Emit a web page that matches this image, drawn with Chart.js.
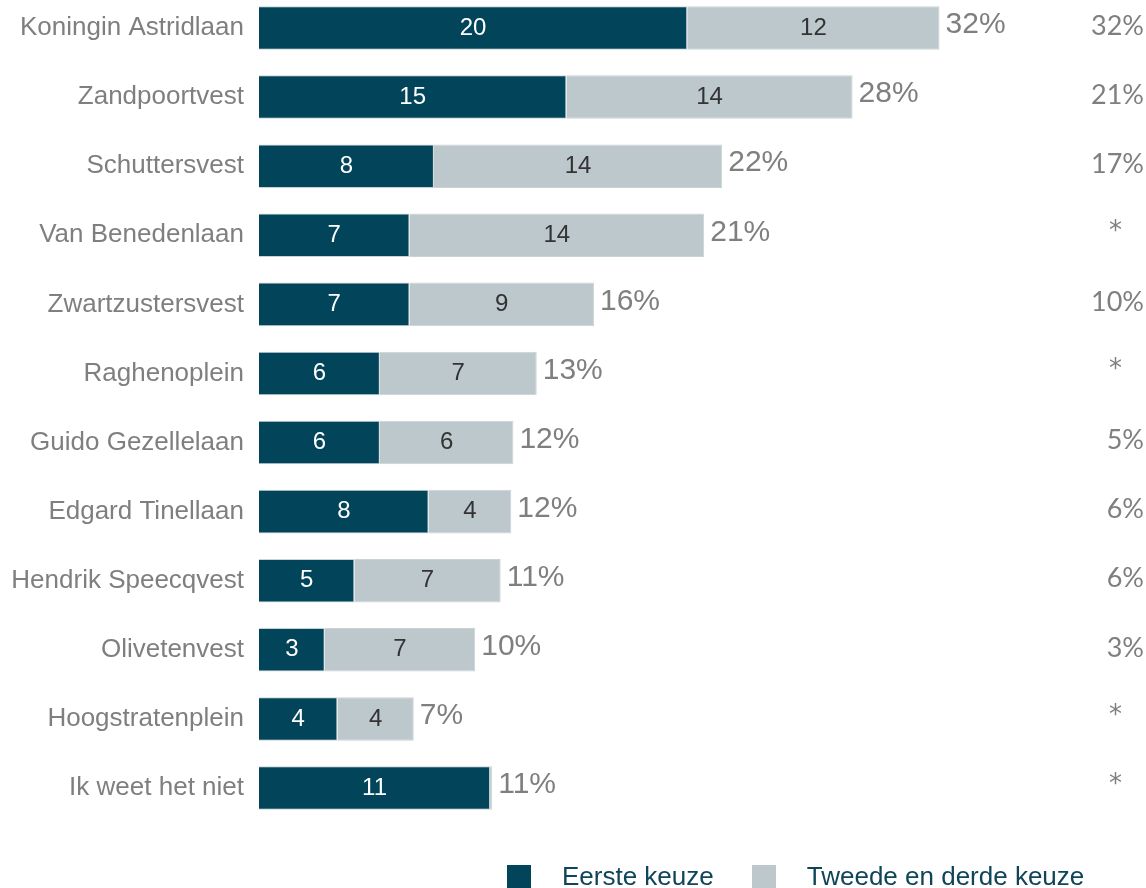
<!DOCTYPE html>
<html>
<head>
<meta charset="utf-8">
<script src="https://cdn.jsdelivr.net/npm/chart.js@4"></script>
<style>
  html, body { margin: 0; padding: 0; background: #fff; }
  #wrap { position: relative; width: 1146px; height: 888px; }
  #legend { position: absolute; left: 507px; top: 861px; display: flex; font-family: "Liberation Sans", Arial, sans-serif; font-size: 26px; color: #0f4558; }
  .item { display: flex; align-items: center; margin-right: 38px; }
  .box { width: 24px; height: 24px; margin-right: 31px; }
</style>
</head>
<body>
<div id="wrap">
  <canvas id="keuzeChart" width="1146" height="888"></canvas>
  <div id="legend"></div>
</div>
<script>
// ===== Voorkeur locatie: eerste vs tweede/derde keuze =====
const categories = [
  "Koningin Astridlaan", "Zandpoortvest", "Schuttersvest", "Van Benedenlaan",
  "Zwartzustersvest", "Raghenoplein", "Guido Gezellelaan", "Edgard Tinellaan",
  "Hendrik Speecqvest", "Olivetenvest", "Hoogstratenplein", "Ik weet het niet"
];
const eersteKeuze = [20.2, 14.5, 8.25, 7.1, 7.1, 5.7, 5.7, 8.0, 4.5, 3.1, 3.7, 10.9];
const tweedeDerde = [11.9, 13.5, 13.6, 13.9, 8.7, 7.4, 6.3, 3.9, 6.9, 7.1, 3.6, 0.1];
const rightColumn = ["32%", "21%", "17%", "*", "10%", "*", "5%", "6%", "6%", "3%", "*", "*"];

const DARK = "#02445a";
const LIGHT = "#bcc8cc";
const GREY = "#7f7f7f";

const labelPlugin = {
  id: "barLabels",
  afterDatasetsDraw(chart) {
    const c = chart.ctx;
    const m0 = chart.getDatasetMeta(0).data;
    const m1 = chart.getDatasetMeta(1).data;
    c.save();
    c.textBaseline = "middle";
    categories.forEach((cat, i) => {
      // values inside the bars
      [[m0[i], eersteKeuze[i], "#ffffff"], [m1[i], tweedeDerde[i], "#333333"]].forEach(([bar, v, col]) => {
        if (v < 1) return;
        c.font = "24px 'Liberation Sans', Arial, sans-serif";
        c.fillStyle = col;
        c.textAlign = "center";
        c.fillText(Math.round(v), (bar.x + bar.base) / 2, bar.y);
      });
      // total after the bar
      const total = Math.round(eersteKeuze[i] + tweedeDerde[i]);
      c.font = "30px 'Liberation Sans', Arial, sans-serif";
      c.fillStyle = GREY;
      c.textAlign = "left";
      c.fillText(total + "%", m1[i].x + 6, m1[i].y - 3);
      // right hand column
      c.textAlign = "right";
      if (rightColumn[i] === "*") {
        c.font = "26px 'DejaVu Sans', sans-serif";
        c.fillText("*", 1122, m1[i].y - 3);
      } else {
        c.font = "27px Lato, 'Open Sans', sans-serif";
        c.fillText(rightColumn[i], 1144, m1[i].y - 2);
      }
    });
    c.restore();
  }
};

const ctx = document.getElementById("keuzeChart").getContext("2d");

const chart = new Chart(ctx, {
  type: "bar",
  data: {
    labels: categories,
    datasets: [
      { label: "Eerste keuze", data: eersteKeuze, backgroundColor: DARK, borderColor: "#c9d3d6", borderWidth: 1, clip: false },
      { label: "Tweede en derde keuze", data: tweedeDerde, backgroundColor: LIGHT, borderColor: "#c9d3d6", borderWidth: 1, clip: false }
    ]
  },
  options: {
    indexAxis: "y",
    responsive: false,
    animation: false,
    layout: { padding: { top: 28, bottom: 100, right: 39, left: 0 } },
    datasets: { bar: { categoryPercentage: 1, barPercentage: 0.63 } },
    scales: {
      x: {
        stacked: true,
        min: 0,
        max: 40,
        display: false
      },
      y: {
        stacked: true,
        offset: false,
        grid: { display: false },
        border: { display: false },
        ticks: {
          color: GREY,
          padding: 7,
          font: { family: "'Liberation Sans', Arial, sans-serif", size: 26 }
        },
        afterFit(scale) { scale.width = 259; }
      }
    },
    plugins: {
      legend: { display: false },
      tooltip: { enabled: false }
    }
  },
  plugins: [labelPlugin]
});

// legend built from the datasets
const legend = document.getElementById("legend");
chart.data.datasets.forEach(ds => {
  const item = document.createElement("div");
  item.className = "item";
  item.innerHTML = '<span class="box" style="background:' + ds.backgroundColor + '"></span><span>' + ds.label + '</span>';
  legend.appendChild(item);
});
</script>
</body>
</html>
